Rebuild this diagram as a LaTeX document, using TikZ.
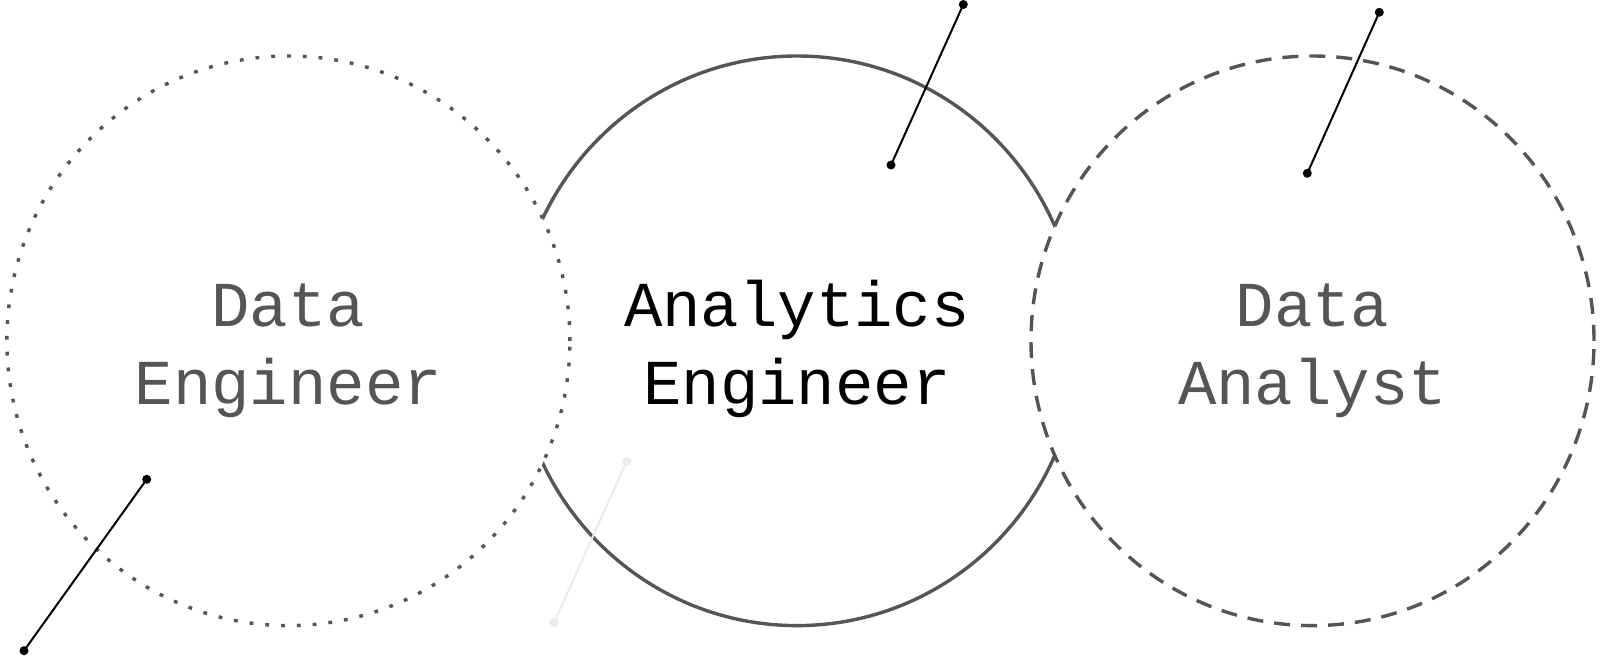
\documentclass[tikz,border=0pt]{standalone}
\usepackage{fontspec}
\newfontfamily\labelfont{Liberation Mono}
\usetikzlibrary{shapes.geometric}
\definecolor{ringgray}{HTML}{555555}
\definecolor{faintgray}{HTML}{EBEBEB}
\begin{document}
\begin{tikzpicture}[x=1pt,y=-1pt,
  ring/.style={shape=ellipse, inner sep=0pt, outer sep=0pt, minimum width=563pt, minimum height=569.6pt, line width=3.4pt, draw=ringgray},
  lbl/.style={font=\labelfont\fontsize{64}{75}\selectfont, anchor=base, inner sep=0pt},
  pin/.style={line width=2pt, draw=black},
  pinfaint/.style={line width=2pt, draw=faintgray},
  pindot/.style={fill=black},
  pindotfaint/.style={fill=faintgray}]
\useasboundingbox (0,0) rectangle (1600,657);
% rings
\node[ring] (mid) at (797,340.8) {};
\node[ring, fill=white, dash pattern=on 3.8pt off 12pt] (left) at (288.4,340.8) {};
\node[ring, fill=white, dash pattern=on 16pt off 11pt] (right) at (1312.5,340.8) {};
% labels
\node[lbl, text=ringgray] (de1) at (288.4,326.5) {Data};
\node[lbl, text=ringgray] (de2) at (288.4,404) {Engineer};
\node[lbl, text=black] (ae1) at (797,326.5) {Analytics};
\node[lbl, text=black] (ae2) at (797,404) {Engineer};
\node[lbl, text=ringgray] (da1) at (1312.5,326.5) {Data};
\node[lbl, text=ringgray] (da2) at (1312.5,404) {Analyst};
% pins
\coordinate (p1a) at (963.3,4.5);
\coordinate (p1b) at (891,165);
\coordinate (p2a) at (1379.3,12.3);
\coordinate (p2b) at (1307.3,173.3);
\coordinate (p3a) at (146.7,479.3);
\coordinate (p3b) at (24,650.7);
\coordinate (p4a) at (626.7,461.3);
\coordinate (p4b) at (554,622.7);
\draw[pinfaint] (p4a) -- (p4b);
\fill[pindotfaint] (p4a) circle (4.5);
\fill[pindotfaint] (p4b) circle (4.5);
\draw[pin] (p1a) -- (p1b);
\draw[pin] (p2a) -- (p2b);
\draw[pin] (p3a) -- (p3b);
\foreach \p in {p1a,p1b,p2a,p2b,p3a,p3b} {\fill[pindot] (\p) circle (4.5);}
\end{tikzpicture}
\end{document}
